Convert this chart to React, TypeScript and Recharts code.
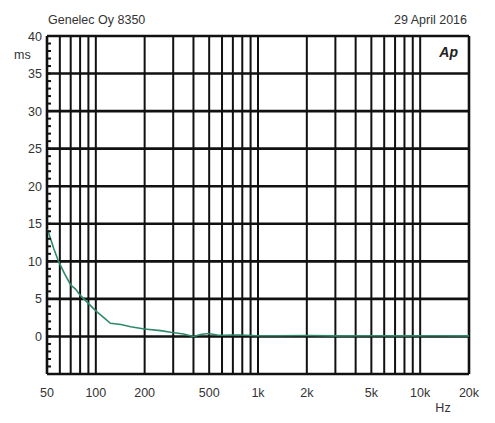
import React from "react";
import { LineChart, Line, XAxis, YAxis, ReferenceLine } from "recharts";

const freqs = [50, 51, 55, 59, 64, 70, 75, 80, 88, 100, 112, 123, 143, 164, 199, 251, 290, 347, 400, 450, 495, 560, 615, 700, 777, 985, 1300, 2000, 3000, 5000, 8000, 12000, 20000];
const delayMs = [14.2, 13.9, 11.7, 9.95, 8.4, 6.85, 6.3, 5.5, 4.6, 3.4, 2.5, 1.75, 1.6, 1.3, 1.0, 0.77, 0.55, 0.32, 0.0, 0.3, 0.4, 0.2, 0.15, 0.2, 0.2, 0.1, 0.1, 0.12, 0.08, 0.1, 0.08, 0.1, 0.08];

const xTicks = [50, 100, 200, 500, 1000, 2000, 5000, 10000, 20000];
const xTickLabels = ["50", "100", "200", "500", "1k", "2k", "5k", "10k", "20k"];
const gridFreqs = [60, 70, 80, 90, 100, 200, 300, 400, 500, 600, 700, 800, 900, 1000, 2000, 3000, 4000, 5000, 6000, 7000, 8000, 9000, 10000];
const yMajor = [-5, 0, 5, 10, 15, 20, 25, 30, 35, 40];
const yMinor = Array.from({ length: 46 }, (_, i) => i - 5);

const title = "Genelec Oy 8350";
const dateText = "29 April 2016";

const data = freqs.map((f, i) => ({ f, v: delayMs[i] }));

const FONT = "'Liberation Sans', Arial, sans-serif";
const TXT = "#333";

const XTick = (props: any) => {
  const { x, y, payload } = props;
  const idx = xTicks.indexOf(payload.value);
  return (
    <text x={x} y={y + 15} textAnchor="middle" fontFamily={FONT} fontSize={12.5} fill={TXT}>
      {idx >= 0 ? xTickLabels[idx] : ""}
    </text>
  );
};

const YTick = (props: any) => {
  const { x, y, payload } = props;
  const v = payload.value;
  const labeled = v % 5 === 0 && v !== -5;
  return (
    <g>
      <line x1={x} x2={x + 4} y1={y} y2={y} stroke="#111" strokeWidth={2} />
      {labeled && (
        <text x={x - 5} y={y} dy="0.36em" textAnchor="end" fontFamily={FONT} fontSize={12.5} fill={TXT}>
          {v}
        </text>
      )}
    </g>
  );
};

export default function App() {
  return (
    <div style={{ position: "absolute", left: 0, top: 0, width: 495, height: 423, background: "#fff" }}>
      <LineChart width={495} height={423} data={data} margin={{ top: 36, right: 26, bottom: 0, left: 0 }}>
        <XAxis
          dataKey="f"
          type="number"
          scale="log"
          domain={[50, 20000]}
          ticks={xTicks}
          interval={0}
          height={49}
          tick={<XTick />}
          tickLine={false}
          axisLine={false}
          allowDataOverflow
        />
        <YAxis
          type="number"
          domain={[-5, 40]}
          ticks={yMinor}
          interval={0}
          width={47}
          tick={<YTick />}
          tickSize={0}
          tickMargin={0}
          tickLine={false}
          axisLine={false}
          allowDataOverflow
        />
        {gridFreqs.map((g) => (
          <ReferenceLine key={"v" + g} x={g} stroke="#111" strokeWidth={2} />
        ))}
        {yMajor.map((m) => (
          <ReferenceLine key={"h" + m} y={m} stroke="#111" strokeWidth={2.6} />
        ))}
        <ReferenceLine x={50} stroke="#111" strokeWidth={2.6} />
        <ReferenceLine x={20000} stroke="#111" strokeWidth={2.6} />
        <Line
          dataKey="v"
          type="linear"
          stroke="#2e8a6a"
          strokeWidth={1.6}
          dot={false}
          isAnimationActive={false}
        />
        <text x={48} y={24} fontFamily={FONT} fontSize={12.5} fill={TXT}>{title}</text>
        <text x={467} y={24} textAnchor="end" fontFamily={FONT} fontSize={12.5} fill={TXT}>{dateText}</text>
        <text x={14} y={59} fontFamily={FONT} fontSize={12.5} fill={TXT}>ms</text>
        <text x={443} y={412} textAnchor="middle" fontFamily={FONT} fontSize={12.5} fill={TXT}>Hz</text>
        <text x={458} y={57} textAnchor="end" fontFamily={FONT} fontSize={14} fontWeight="bold" fontStyle="italic" fill="#222">Ap</text>
      </LineChart>
    </div>
  );
}
